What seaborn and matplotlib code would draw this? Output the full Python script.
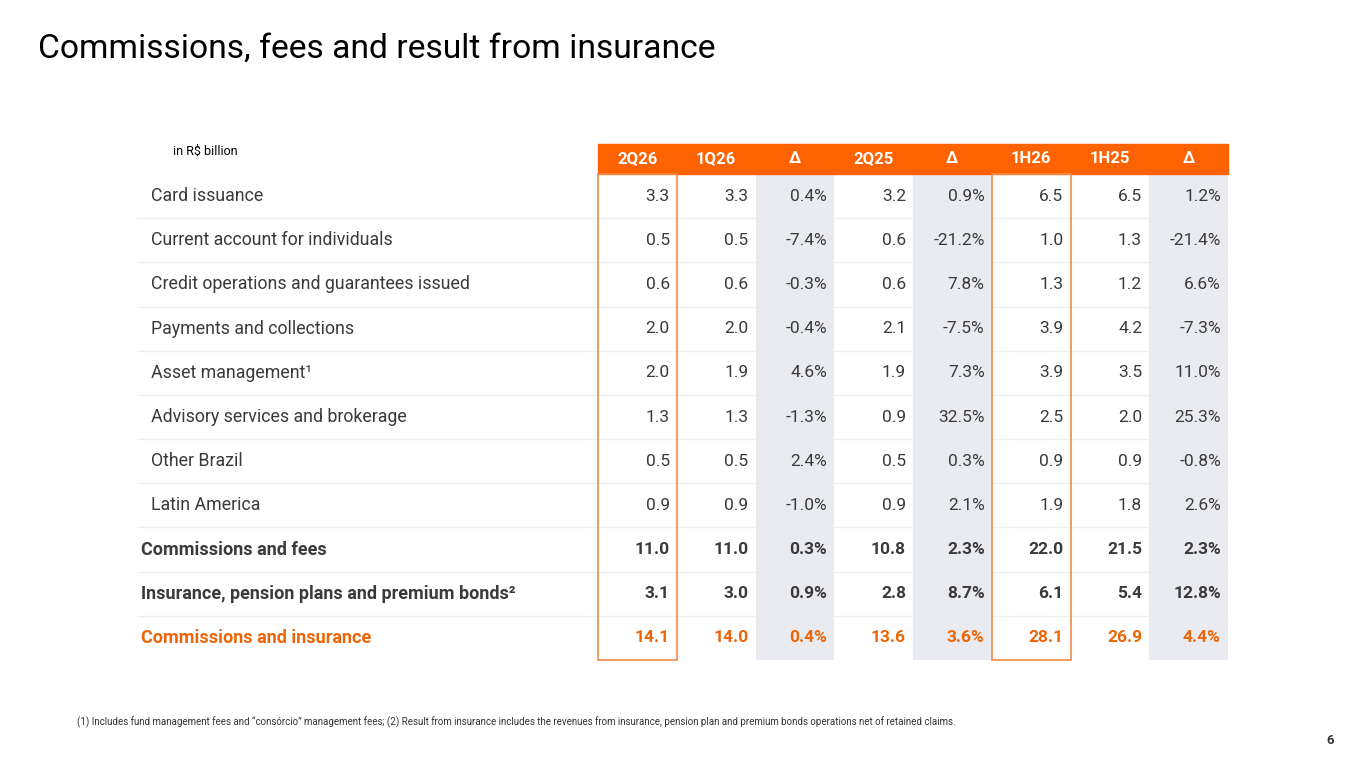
import numpy as np
import pandas as pd
import matplotlib
matplotlib.use("Agg")
import matplotlib.pyplot as plt
from matplotlib.colors import ListedColormap
from matplotlib.patches import Rectangle
import seaborn as sns

# data (R$ billion)
linhas = ["Card issuance", "Current account for individuals",
          "Credit operations and guarantees issued", "Payments and collections",
          "Asset management¹", "Advisory services and brokerage", "Other Brazil",
          "Latin America", "Commissions and fees",
          "Insurance, pension plans and premium bonds²", "Commissions and insurance"]
colunas = ["2Q26", "1Q26", "Δ", "2Q25", "Δ", "1H26", "1H25", "Δ"]

q2_26 = [3.3, 0.5, 0.6, 2.0, 2.0, 1.3, 0.5, 0.9, 11.0, 3.1, 14.1]
q1_26 = [3.3, 0.5, 0.6, 2.0, 1.9, 1.3, 0.5, 0.9, 11.0, 3.0, 14.0]
d_tri = [0.4, -7.4, -0.3, -0.4, 4.6, -1.3, 2.4, -1.0, 0.3, 0.9, 0.4]
q2_25 = [3.2, 0.6, 0.6, 2.1, 1.9, 0.9, 0.5, 0.9, 10.8, 2.8, 13.6]
d_ano = [0.9, -21.2, 7.8, -7.5, 7.3, 32.5, 0.3, 2.1, 2.3, 8.7, 3.6]
h1_26 = [6.5, 1.0, 1.3, 3.9, 3.9, 2.5, 0.9, 1.9, 22.0, 6.1, 28.1]
h1_25 = [6.5, 1.3, 1.2, 4.2, 3.5, 2.0, 0.9, 1.8, 21.5, 5.4, 26.9]
d_sem = [1.2, -21.4, 6.6, -7.3, 11.0, 25.3, -0.8, 2.6, 2.3, 12.8, 4.4]

negrito = [8, 9, 10]
destaque = 10

LARANJA = "#FF6200"
TEXTO = "#3A3A3A"
CINZA = "#E9EBF1"


def montar_tabela():
    df = pd.DataFrame({"2Q26": q2_26, "1Q26": q1_26, "d1": d_tri, "2Q25": q2_25,
                       "d2": d_ano, "1H26": h1_26, "1H25": h1_25, "d3": d_sem},
                      index=linhas)
    return df


def desenhar(df):
    plt.rcParams["font.family"] = ["Roboto", "DejaVu Sans"]
    fig = plt.figure(figsize=(13.65, 7.68), dpi=100)
    fig.patch.set_facecolor("white")

    ax = fig.add_axes([598 / 1365, 1 - 660 / 768, 630 / 1365, 486 / 768])
    eh_delta = np.array([c.startswith("d") for c in df.columns])
    sombra = np.tile(eh_delta.astype(float), (len(df), 1))
    sns.heatmap(sombra, mask=sombra == 0, cmap=ListedColormap([CINZA]),
                cbar=False, ax=ax, linewidths=0, zorder=2)
    ax.set_xticks([])
    ax.set_yticks([])
    for s in ax.spines.values():
        s.set_visible(False)
    ax.set_xlim(0, len(colunas))
    ax.set_ylim(len(linhas), 0)

    trans = ax.get_yaxis_transform()
    # separators between rows
    ax.hlines(np.arange(1, len(linhas)), -0.7317, 1, transform=trans,
              colors="#EFEFEF", lw=1, clip_on=False, zorder=1)

    # header bar
    ax.add_patch(Rectangle((0, -0.68), len(colunas), 0.68, color=LARANJA,
                           clip_on=False, zorder=3))
    for j, c in enumerate(colunas):
        ax.text(j + 0.5, -0.34, c, ha="center", va="center", color="white",
                fontsize=12, fontweight="bold", zorder=4)

    # values
    for i, nome in enumerate(df.index):
        bold = i in negrito
        cor = "#EC6608" if i == destaque else TEXTO
        peso = "bold" if bold else "normal"
        tam = 13 if bold else 12.8
        x_lab = -0.7254 if bold else -0.7095
        ax.text(x_lab, i + 0.5, nome, transform=trans, ha="left", va="center",
                fontsize=tam, color=cor, fontweight=peso)
        for j, c in enumerate(df.columns):
            v = df.iloc[i, j]
            txt = f"{v:.1f}%" if c.startswith("d") else f"{v:.1f}"
            ax.text(j + 0.91, i + 0.5, txt, ha="right", va="center",
                    fontsize=12.5, color=cor, fontweight=peso, zorder=5)

    # highlighted columns
    for j in [0, 5]:
        ax.add_patch(Rectangle((j, 0), 1, len(linhas), fill=False,
                               edgecolor="#F28A4E", lw=1.2, clip_on=False, zorder=6))

    fig.text(38 / 1365, 1 - 49 / 768, "Commissions, fees and result from insurance",
             fontsize=24.2, color="black", va="center", ha="left")
    fig.text(173 / 1365, 1 - 151 / 768, "in R$ billion", fontsize=9,
             color="black", va="center", ha="left")
    fig.text(77 / 1365, 1 - 722 / 768,
             "(1) Includes fund management fees and \u201cconsórcio\u201d management fees; "
             "(2) Result from insurance includes the revenues from insurance, pension plan "
             "and premium bonds operations net of retained claims.",
             fontsize=7, color="#333333", va="center", ha="left")
    fig.text(1330 / 1365, 1 - 740 / 768, "6", fontsize=9.5, fontweight="bold",
             color="#333333", va="center", ha="center")

    fig.savefig("out.png", dpi=100, facecolor="white")


def main():
    df = montar_tabela()
    desenhar(df)


if __name__ == "__main__":
    main()
